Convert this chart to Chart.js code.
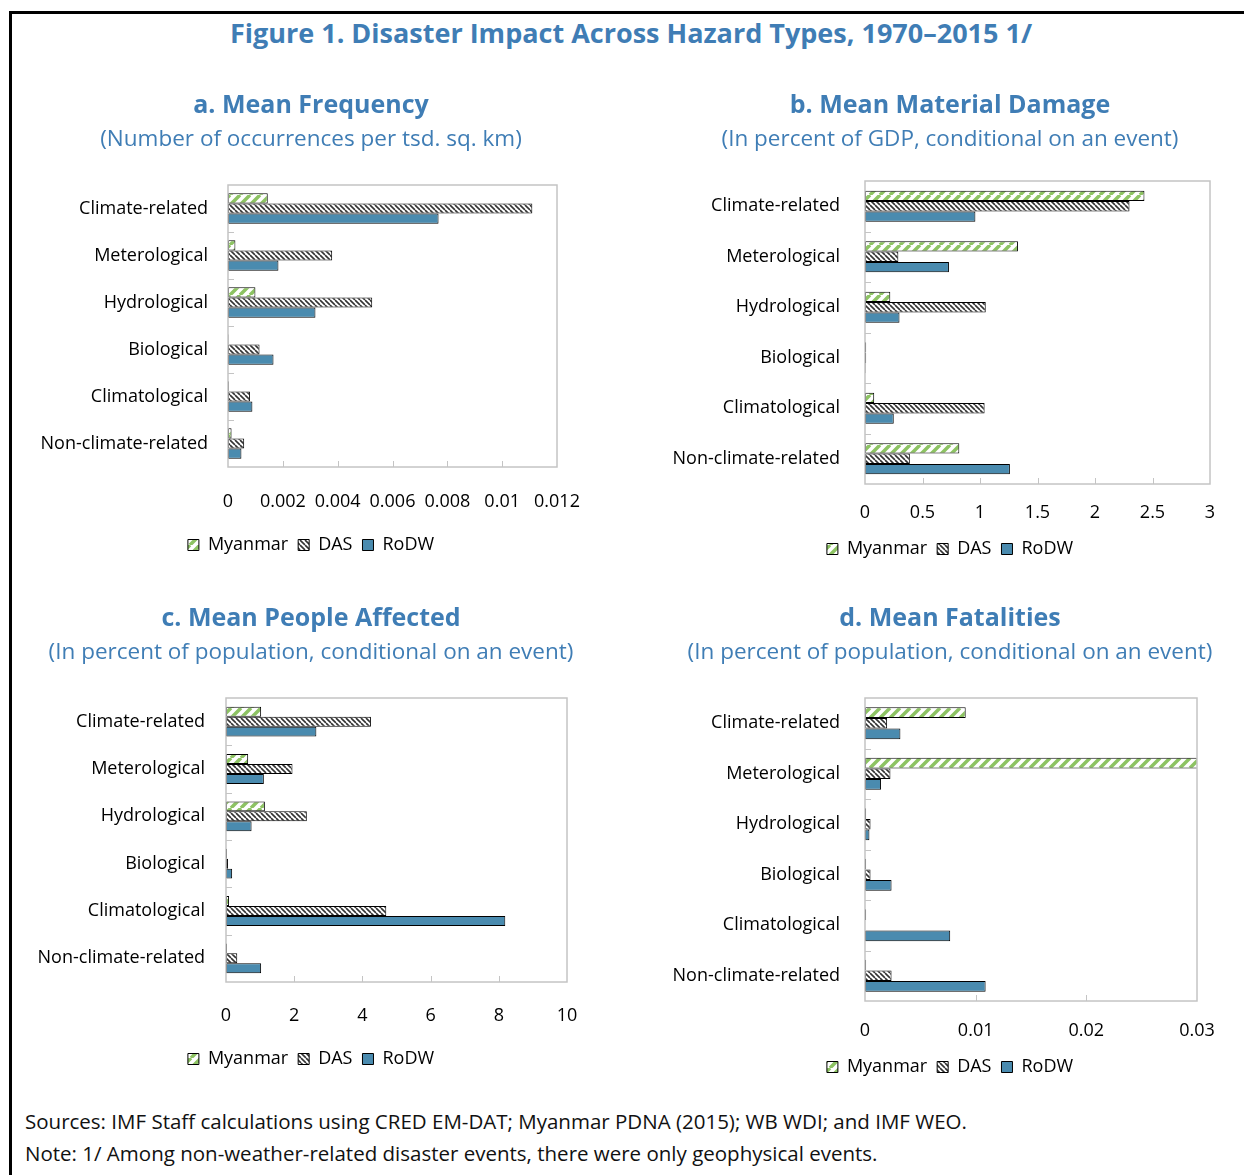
<!DOCTYPE html>
<html>
<head>
<meta charset="utf-8">
<script src="https://cdn.jsdelivr.net/npm/chart.js@4.4.0/dist/chart.umd.min.js"></script>
<style>
  body { margin: 0; background: #fff; font-family: "Open Sans", sans-serif; }
  #page { position: relative; width: 1244px; height: 1175px; overflow: hidden; }
  #frame { position: absolute; left: 9px; top: 11px; width: 1400px; height: 1400px;
           border-left: 3px solid #000; border-top: 3px solid #000; }
  #title { position: absolute; left: 0; width: 1262px; top: 16px; text-align: center;
           font-size: 27px; font-weight: bold; color: #3f7db5; line-height: 34px; }
  canvas { position: absolute; }
  .note { position: absolute; left: 25px; font-size: 20.5px; color: #111; line-height: 28px; white-space: nowrap; }
</style>
</head>
<body>
<div id="page">
  <div id="frame"></div>
  <div id="title">Figure 1. Disaster Impact Across Hazard Types, 1970–2015 1/</div>
  <canvas id="chartA" width="582" height="479" style="left:20px;top:85px"></canvas>
  <canvas id="chartB" width="560" height="483" style="left:670px;top:85px"></canvas>
  <canvas id="chartC" width="580" height="480" style="left:21px;top:598px"></canvas>
  <canvas id="chartD" width="560" height="488" style="left:670px;top:598px"></canvas>
  <div class="note" style="top:1107px">Sources: IMF Staff calculations using CRED EM-DAT; Myanmar PDNA (2015); WB WDI; and IMF WEO.</div>
  <div class="note" style="top:1139px">Note: 1/ Among non-weather-related disaster events, there were only geophysical events.</div>
</div>
<script>
// categories and series
const categories = ["Climate-related", "Meterological", "Hydrological", "Biological", "Climatological", "Non-climate-related"];
const seriesNames = ["Myanmar", "DAS", "RoDW"];

// a. mean frequency (per tsd. sq. km)
const freqMyanmar = [0.00145, 0.00027, 0.0010, 0.00002, 0.00003, 0.00013];
const freqDAS     = [0.0111, 0.0038, 0.00526, 0.00115, 0.0008, 0.00059];
const freqRoDW    = [0.00768, 0.00184, 0.00319, 0.00166, 0.00089, 0.00049];
const freqTicks   = [0, 0.002, 0.004, 0.006, 0.008, 0.01, 0.012];

// b. mean material damage (% of GDP)
const damageMyanmar = [2.43, 1.33, 0.22, 0.01, 0.08, 0.82];
const damageDAS     = [2.30, 0.29, 1.05, 0.01, 1.04, 0.39];
const damageRoDW    = [0.96, 0.73, 0.30, 0.005, 0.25, 1.26];
const damageTicks   = [0, 0.5, 1, 1.5, 2, 2.5, 3];

// c. mean people affected (% of population)
const affectedMyanmar = [1.03, 0.65, 1.14, 0.03, 0.09, 0.03];
const affectedDAS     = [4.25, 1.95, 2.37, 0.06, 4.70, 0.33];
const affectedRoDW    = [2.65, 1.11, 0.75, 0.18, 8.19, 1.03];
const affectedTicks   = [0, 2, 4, 6, 8, 10];

// d. mean fatalities (% of population)
const fatalMyanmar = [0.0091, 0.035, 0.0001, 0.0001, 0.0001, 0.0001];
const fatalDAS     = [0.0020, 0.0023, 0.0005, 0.0005, 0, 0.0024];
const fatalRoDW    = [0.0032, 0.00145, 0.0004, 0.0024, 0.0077, 0.0109];
const fatalTicks   = [0, 0.01, 0.02, 0.03];

const FONT = '"Open Sans", sans-serif';
const TITLE_BLUE = "#3f7db5";

function stripes(size, fg, lw, slash) {
    const c = document.createElement("canvas");
    c.width = c.height = size;
    const g = c.getContext("2d");
    g.fillStyle = "#fff";
    g.fillRect(0, 0, size, size);
    g.strokeStyle = fg;
    g.lineWidth = lw;
    g.beginPath();
    for (let k = -1; k <= 1; k++) {
        if (slash) { g.moveTo(k * size, size); g.lineTo(k * size + size, 0); }
        else { g.moveTo(k * size, 0); g.lineTo(k * size + size, size); }
    }
    g.stroke();
    return g.createPattern(c, "repeat");
}

const fills = [stripes(10, "#8dc363", 3.5, true), stripes(5, "#333", 1.6, false), "#4a8baf"];

// grey plot frame plus the small inner tick marks
const framePlugin = {
    id: "frame",
    afterDatasetsDraw(chart) {
        const { ctx, chartArea: a, scales } = chart;
        ctx.save();
        ctx.strokeStyle = "#c4c4c4";
        ctx.lineWidth = 1.5;
        ctx.strokeRect(a.left, a.top, a.right - a.left, a.bottom - a.top);
        ctx.lineWidth = 1;
        ctx.beginPath();
        for (let i = 1; i < categories.length; i++) {
            const y = Math.round((scales.y.getPixelForValue(i - 1) + scales.y.getPixelForValue(i)) / 2) + 0.5;
            ctx.moveTo(a.left, y); ctx.lineTo(a.left + 6, y);
        }
        scales.x.ticks.forEach((t, i) => {
            if (i === 0 || i === scales.x.ticks.length - 1) return;
            const x = Math.round(scales.x.getPixelForValue(t.value)) + 0.5;
            ctx.moveTo(x, a.bottom); ctx.lineTo(x, a.bottom - 6);
        });
        ctx.stroke();
        ctx.restore();
    }
};

function makePanel(id, cfg) {
    new Chart(document.getElementById(id), {
        type: "bar",
        data: {
            labels: categories,
            datasets: cfg.series.map((d, i) => ({
                label: seriesNames[i],
                data: d,
                backgroundColor: fills[i],
                borderColor: "#000",
                borderWidth: 1,
                borderSkipped: false,
                barPercentage: 1,
                categoryPercentage: cfg.catPct
            }))
        },
        options: {
            indexAxis: "y",
            responsive: false,
            animation: false,
            plugins: {
                title: {
                    display: true, text: cfg.title, color: TITLE_BLUE,
                    font: { family: FONT, size: 25, weight: "bold", lineHeight: 1.2 },
                    padding: { top: 6, bottom: 5.5 }
                },
                subtitle: {
                    display: true, text: cfg.subtitle, color: TITLE_BLUE,
                    font: { family: FONT, size: 22.5, lineHeight: 1.2 },
                    padding: { top: 0, bottom: cfg.subPad }
                },
                legend: {
                    position: "bottom",
                    labels: {
                        font: { family: FONT, size: 18 }, color: "#000",
                        boxWidth: 11, boxHeight: 11, padding: 10
                    }
                },
                tooltip: { enabled: false }
            },
            scales: {
                x: {
                    min: 0, max: cfg.ticks[cfg.ticks.length - 1],
                    // hidden tick length pushes the labels down without widening the side padding
                    grid: { display: false, drawTicks: true, tickLength: cfg.tickPad },
                    border: { display: false },
                    ticks: {
                        font: { family: FONT, size: 18 }, color: "#000",
                        padding: 0, maxRotation: 0, autoSkip: false,
                        callback: v => String(v)
                    },
                    afterBuildTicks: s => { s.ticks = cfg.ticks.map(v => ({ value: v })); },
                    afterFit: s => { s.height = cfg.xHeight; }
                },
                y: {
                    grid: { display: false, drawTicks: false },
                    border: { display: false },
                    ticks: { font: { family: FONT, size: 18 }, color: "#000", padding: cfg.labelPad },
                    afterFit: s => { s.width = cfg.yWidth; }
                },
                // empty right-hand axis: keeps the gap right of the plot while titles stay centred on the canvas
                pad: {
                    axis: "y", type: "linear", position: "right",
                    grid: { display: false, drawTicks: false },
                    border: { display: false },
                    ticks: { display: false },
                    afterFit: s => { s.width = cfg.padRight; }
                }
            }
        },
        plugins: [framePlugin]
    });
}

makePanel("chartA", {
    title: "a. Mean Frequency", subtitle: "(Number of occurrences per tsd. sq. km)",
    series: [freqMyanmar, freqDAS, freqRoDW], ticks: freqTicks,
    catPct: 0.65, padRight: 45, yWidth: 208, labelPad: 20, subPad: 31.5, tickPad: 23.6, xHeight: 59
});
makePanel("chartB", {
    title: "b. Mean Material Damage", subtitle: "(In percent of GDP, conditional on an event)",
    series: [damageMyanmar, damageDAS, damageRoDW], ticks: damageTicks,
    catPct: 0.61, padRight: 20, yWidth: 195, labelPad: 25, subPad: 27.5, tickPad: 17.6, xHeight: 46
});
makePanel("chartC", {
    title: "c. Mean People Affected", subtitle: "(In percent of population, conditional on an event)",
    series: [affectedMyanmar, affectedDAS, affectedRoDW], ticks: affectedTicks,
    catPct: 0.63, padRight: 34, yWidth: 205, labelPad: 21, subPad: 31.5, tickPad: 22.6, xHeight: 58
});
makePanel("chartD", {
    title: "d. Mean Fatalities", subtitle: "(In percent of population, conditional on an event)",
    series: [fatalMyanmar, fatalDAS, fatalRoDW], ticks: fatalTicks,
    catPct: 0.63, padRight: 33, yWidth: 195, labelPad: 25, subPad: 31.5, tickPad: 18.6, xHeight: 47
});
</script>
</body>
</html>
